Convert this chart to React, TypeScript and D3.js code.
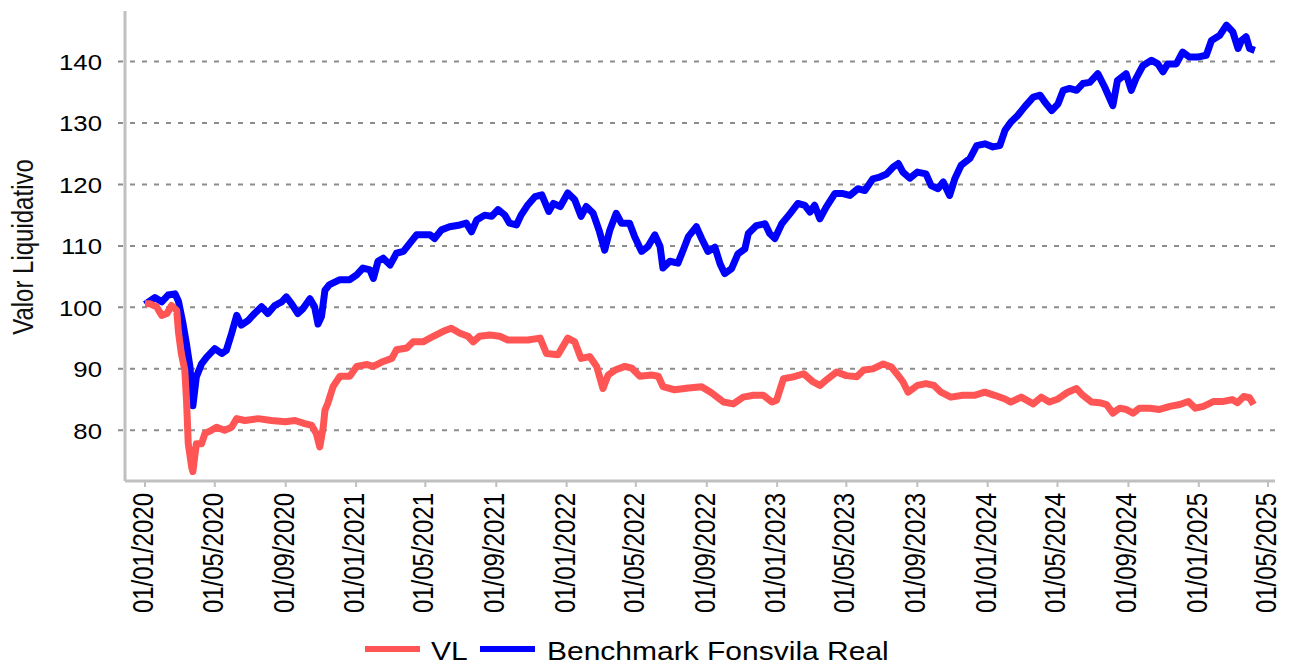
import React from 'react';
import * as d3 from 'd3';

const width = 1290,
      height = 664;

// Valor liquidativo del fondo (VL), base 100 a 01/01/2020
const vlSeries: [string, number][] = [
  ['2020-01-01', 100.6], ['2020-01-09', 100.6], ['2020-01-21', 100.1], ['2020-01-30', 98.7], ['2020-02-08', 99],
  ['2020-02-16', 100.3], ['2020-02-25', 99.5], ['2020-02-28', 96], ['2020-03-04', 92.5], ['2020-03-10', 89.8],
  ['2020-03-13', 84.9], ['2020-03-16', 77.8], ['2020-03-22', 74], ['2020-03-24', 73.3], ['2020-03-30', 77.8],
  ['2020-04-08', 77.8], ['2020-04-14', 79.5], ['2020-04-25', 80], ['2020-05-04', 80.5], ['2020-05-18', 80],
  ['2020-05-30', 80.5], ['2020-06-08', 81.9], ['2020-06-22', 81.6], ['2020-07-15', 81.9], ['2020-08-07', 81.6],
  ['2020-08-31', 81.4], ['2020-09-17', 81.6], ['2020-10-04', 81.1], ['2020-10-16', 80.8], ['2020-10-24', 79.5],
  ['2020-10-30', 77.3], ['2020-11-05', 80.5], ['2020-11-08', 83.3], ['2020-11-13', 84.4], ['2020-11-22', 87.1],
  ['2020-12-04', 88.8], ['2020-12-21', 88.8], ['2021-01-02', 90.4], ['2021-01-20', 90.7], ['2021-01-31', 90.4],
  ['2021-02-17', 91.2], ['2021-03-04', 91.7], ['2021-03-12', 93.1], ['2021-03-30', 93.4], ['2021-04-10', 94.4],
  ['2021-04-27', 94.4], ['2021-05-15', 95.3], ['2021-06-01', 96.1], ['2021-06-15', 96.6], ['2021-06-30', 95.8],
  ['2021-07-14', 95.3], ['2021-07-23', 94.4], ['2021-08-03', 95.3], ['2021-08-21', 95.5], ['2021-09-07', 95.3],
  ['2021-09-21', 94.7], ['2021-10-12', 94.7], ['2021-10-26', 94.7], ['2021-11-16', 95], ['2021-11-27', 92.5],
  ['2021-12-17', 92.3], ['2022-01-03', 95], ['2022-01-15', 94.4], ['2022-01-26', 91.7], ['2022-02-10', 92],
  ['2022-02-22', 90.4], ['2022-03-05', 86.8], ['2022-03-14', 89], ['2022-03-26', 89.8], ['2022-04-12', 90.4],
  ['2022-04-24', 90.1], ['2022-05-08', 88.8], ['2022-05-28', 89], ['2022-06-09', 88.8], ['2022-06-17', 87.1],
  ['2022-07-07', 86.6], ['2022-07-31', 86.9], ['2022-08-23', 87.1], ['2022-09-09', 86.1], ['2022-09-30', 84.6],
  ['2022-10-17', 84.3], ['2022-11-03', 85.4], ['2022-11-21', 85.7], ['2022-12-08', 85.7], ['2022-12-23', 84.6],
  ['2022-12-31', 84.9], ['2023-01-12', 88.4], ['2023-01-29', 88.7], ['2023-02-16', 89.2], ['2023-03-04', 87.9],
  ['2023-03-16', 87.3], ['2023-03-30', 88.4], ['2023-04-14', 89.5], ['2023-05-01', 88.9], ['2023-05-19', 88.7],
  ['2023-05-31', 89.8], ['2023-06-16', 90], ['2023-07-04', 90.8], ['2023-07-18', 90.3], ['2023-07-30', 88.9],
  ['2023-08-07', 87.9], ['2023-08-16', 86.2], ['2023-09-01', 87.3], ['2023-09-16', 87.6], ['2023-09-30', 87.3],
  ['2023-10-12', 86.2], ['2023-10-29', 85.4], ['2023-11-19', 85.7], ['2023-12-09', 85.7], ['2023-12-27', 86.2],
  ['2024-01-13', 85.7], ['2024-01-31', 85.1], ['2024-02-10', 84.6], ['2024-02-28', 85.4], ['2024-03-20', 84.3],
  ['2024-04-03', 85.4], ['2024-04-17', 84.6], ['2024-05-02', 85.1], ['2024-05-19', 86.2], ['2024-06-03', 86.8],
  ['2024-06-14', 85.7], ['2024-06-29', 84.6], ['2024-07-13', 84.5], ['2024-07-25', 84.2], ['2024-08-05', 82.8],
  ['2024-08-17', 83.6], ['2024-08-28', 83.4], ['2024-09-09', 82.8], ['2024-09-20', 83.6], ['2024-10-08', 83.6],
  ['2024-10-25', 83.4], ['2024-11-12', 83.9], ['2024-11-29', 84.2], ['2024-12-14', 84.7], ['2024-12-26', 83.6],
  ['2025-01-09', 83.9], ['2025-01-27', 84.7], ['2025-02-13', 84.7], ['2025-02-28', 85], ['2025-03-09', 84.5],
  ['2025-03-20', 85.5], ['2025-03-30', 85.3], ['2025-04-06', 84.2],
];

const benchmarkSeries: [string, number][] = [
  ['2020-01-01', 100.5], ['2020-01-18', 101.6], ['2020-01-30', 100.9], ['2020-02-10', 102], ['2020-02-22', 102.2],
  ['2020-02-28', 101], ['2020-03-07', 97.3], ['2020-03-13', 94], ['2020-03-19', 90.3], ['2020-03-24', 84],
  ['2020-03-30', 88.7], ['2020-04-08', 90.8], ['2020-04-17', 91.9], ['2020-05-01', 93.3], ['2020-05-13', 92.5],
  ['2020-05-21', 93], ['2020-05-30', 95.7], ['2020-06-08', 98.7], ['2020-06-16', 97.1], ['2020-06-28', 97.9],
  ['2020-07-09', 99], ['2020-07-21', 100.1], ['2020-08-01', 99], ['2020-08-13', 100.3], ['2020-08-25', 100.9],
  ['2020-09-02', 101.7], ['2020-09-11', 100.6], ['2020-09-22', 99], ['2020-10-01', 99.8], ['2020-10-13', 101.4],
  ['2020-10-21', 100.1], ['2020-10-27', 97.3], ['2020-11-02', 98.5], ['2020-11-08', 102.8], ['2020-11-16', 103.7],
  ['2020-12-04', 104.5], ['2020-12-21', 104.5], ['2021-01-02', 105.3], ['2021-01-13', 106.4], ['2021-01-25', 106.1],
  ['2021-01-31', 104.7], ['2021-02-08', 107.5], ['2021-02-17', 108], ['2021-03-01', 106.9], ['2021-03-12', 108.8],
  ['2021-03-24', 109.1], ['2021-04-04', 110.4], ['2021-04-16', 111.8], ['2021-04-27', 111.8], ['2021-05-09', 111.8],
  ['2021-05-17', 111.2], ['2021-05-29', 112.6], ['2021-06-12', 113.1], ['2021-06-30', 113.4], ['2021-07-11', 113.7],
  ['2021-07-20', 112.3], ['2021-07-29', 114.2], ['2021-08-12', 115], ['2021-08-24', 114.8], ['2021-09-04', 115.9],
  ['2021-09-16', 115], ['2021-09-24', 113.7], ['2021-10-06', 113.4], ['2021-10-14', 115], ['2021-10-26', 116.7],
  ['2021-11-07', 118], ['2021-11-19', 118.3], ['2021-12-01', 115.6], ['2021-12-09', 116.9], ['2021-12-21', 116.4],
  ['2022-01-03', 118.6], ['2022-01-15', 117.5], ['2022-01-26', 114.8], ['2022-02-04', 116.4], ['2022-02-16', 115.3],
  ['2022-02-27', 112.3], ['2022-03-08', 109.3], ['2022-03-17', 112.6], ['2022-03-28', 115.3], ['2022-04-06', 113.7],
  ['2022-04-20', 113.7], ['2022-04-29', 111.5], ['2022-05-11', 109.1], ['2022-05-22', 109.9], ['2022-06-03', 111.8],
  ['2022-06-12', 109.9], ['2022-06-17', 106.4], ['2022-06-29', 107.5], ['2022-07-13', 107.2], ['2022-07-22', 109.3],
  ['2022-07-31', 111.5], ['2022-08-14', 113.1], ['2022-08-23', 111.2], ['2022-09-03', 109.1], ['2022-09-15', 109.8],
  ['2022-09-24', 107.1], ['2022-10-02', 105.5], ['2022-10-14', 106.3], ['2022-10-25', 108.7], ['2022-11-06', 109.5],
  ['2022-11-12', 112], ['2022-11-26', 113.3], ['2022-12-11', 113.6], ['2022-12-19', 112], ['2022-12-28', 111.2],
  ['2023-01-09', 113.6], ['2023-01-23', 115.2], ['2023-02-06', 116.9], ['2023-02-18', 116.6], ['2023-02-27', 115.5],
  ['2023-03-07', 116.6], ['2023-03-16', 114.4], ['2023-03-27', 116.3], ['2023-04-11', 118.5], ['2023-04-25', 118.5],
  ['2023-05-07', 118.2], ['2023-05-21', 119.3], ['2023-06-02', 119], ['2023-06-16', 120.9], ['2023-06-28', 121.2],
  ['2023-07-10', 121.7], ['2023-07-21', 122.8], ['2023-07-30', 123.4], ['2023-08-07', 122], ['2023-08-19', 121],
  ['2023-09-01', 122], ['2023-09-16', 121.7], ['2023-09-25', 119.8], ['2023-10-07', 119.3], ['2023-10-16', 120.4],
  ['2023-10-27', 118.2], ['2023-11-05', 120.9], ['2023-11-16', 123.1], ['2023-12-01', 124.2], ['2023-12-13', 126.3],
  ['2023-12-27', 126.6], ['2024-01-10', 126.1], ['2024-01-22', 126.3], ['2024-01-31', 128.8], ['2024-02-10', 130.1],
  ['2024-02-22', 131.2], ['2024-03-05', 132.6], ['2024-03-20', 134.2], ['2024-04-01', 134.5], ['2024-04-09', 133.4],
  ['2024-04-21', 132], ['2024-05-02', 133.1], ['2024-05-11', 135.3], ['2024-05-22', 135.6], ['2024-06-03', 135.3],
  ['2024-06-14', 136.4], ['2024-06-26', 136.6], ['2024-07-10', 138], ['2024-07-22', 135.8], ['2024-08-05', 132.8],
  ['2024-08-13', 136.9], ['2024-08-28', 138], ['2024-09-06', 135.3], ['2024-09-14', 137.2], ['2024-09-26', 139.3],
  ['2024-10-11', 140.2], ['2024-10-22', 139.6], ['2024-10-31', 138.3], ['2024-11-08', 139.6], ['2024-11-23', 139.6],
  ['2024-12-04', 141.5], ['2024-12-16', 140.7], ['2024-12-30', 140.7], ['2025-01-14', 141], ['2025-01-23', 143.4],
  ['2025-02-06', 144.2], ['2025-02-18', 145.9], ['2025-03-01', 144.8], ['2025-03-10', 142.1], ['2025-03-16', 143.4],
  ['2025-03-24', 144], ['2025-03-30', 142.1], ['2025-04-08', 141.8],
];

const yTicks = [80, 90, 100, 110, 120, 130, 140];
const legendLabels = ['VL', 'Benchmark Fonsvila Real'];
const seriesColors = ['#ff5555', '#0000ff'];

const parse = d3.timeParse('%Y-%m-%d');
const fmt = d3.timeFormat('%d/%m/%Y');

const App = () => {
  // the original picture is stretched horizontally, text too
  const sx = 1.2;

  const x = d3.scaleTime()
    .domain([parse('2020-01-01') as Date, parse('2025-05-01') as Date])
    .range([145, 1268]);
  const y = d3.scaleLinear().domain([71.76, 148.2]).range([481, 11]);

  const xTicks = x.ticks(d3.timeMonth.every(4) as d3.TimeInterval);

  const line = d3.line<[string, number]>()
    .x(d => x(parse(d[0]) as Date))
    .y(d => y(d[1]));

  const left = 125, right = 1275, bottom = 481;

  return (
    <svg width={width} height={height} style={{ position: 'absolute', left: 0, top: 0, background: '#fff' }}
      fontFamily="'Liberation Sans', Arial, sans-serif">
      {/* grid */}
      {yTicks.map(t => (
        <line key={'g' + t} x1={118} x2={right} y1={y(t)} y2={y(t)}
          stroke="#8c8c8c" strokeWidth={2} strokeDasharray="5,7" />
      ))}
      {/* y tick labels */}
      {yTicks.map(t => (
        <text key={'yl' + t} transform={`translate(102,${y(t) + 8.5}) scale(1.12,1)`}
          textAnchor="end" fontSize={23} fill="#000">{t}</text>
      ))}
      {/* axes */}
      <line x1={left} x2={left} y1={11} y2={bottom} stroke="#c0c0c0" strokeWidth={3} />
      <line x1={left} x2={right} y1={bottom} y2={bottom} stroke="#c0c0c0" strokeWidth={3} />
      {xTicks.map(t => (
        <g key={'xt' + t.getTime()}>
          <line x1={x(t)} x2={x(t)} y1={bottom + 1} y2={bottom + 6} stroke="#c0c0c0" strokeWidth={2} />
          <text transform={`translate(${x(t) + 8},493) scale(${sx},1) rotate(-90)`}
            textAnchor="end" fontSize={24} fill="#000">{fmt(t)}</text>
        </g>
      ))}
      {/* y axis title */}
      <text transform={`translate(33,247) scale(${sx},1) rotate(-90)`} textAnchor="middle"
        fontSize={24} fill="#111">Valor Liquidativo</text>

      {/* series */}
      <path d={line(benchmarkSeries) || ''} fill="none" stroke={seriesColors[1]} strokeWidth={7}
        strokeLinejoin="round" />
      <path d={line(vlSeries) || ''} fill="none" stroke={seriesColors[0]} strokeWidth={7}
        strokeLinejoin="round" />

      {/* legend */}
      <g>
        <line x1={365} x2={420} y1={649} y2={649} stroke={seriesColors[0]} strokeWidth={6} />
        <text transform={`translate(431,660) scale(${sx},1)`} fontSize={25} fill="#000">{legendLabels[0]}</text>
        <line x1={480} x2={535} y1={649} y2={649} stroke={seriesColors[1]} strokeWidth={6} />
        <text transform={`translate(547,660) scale(${sx},1)`} fontSize={25} fill="#000">{legendLabels[1]}</text>
      </g>
    </svg>
  );
};

export default App;
